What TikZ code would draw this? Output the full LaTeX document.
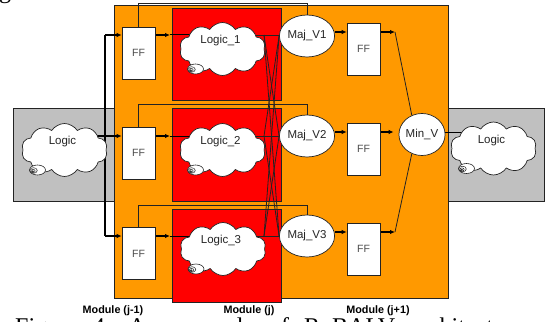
\documentclass[tikz,border=0pt]{standalone}
\usepackage{fontspec}
\setmainfont{Liberation Serif}
\setsansfont{Liberation Sans}
\usetikzlibrary{shapes.symbols,shapes.geometric,arrows.meta,calc}
\definecolor{modorange}{RGB}{255,153,0}
\definecolor{modred}{RGB}{255,0,0}
\definecolor{envgrey}{RGB}{192,192,192}
\definecolor{inkline}{RGB}{35,35,35}
\pgfdeclarelayer{panels}
\pgfdeclarelayer{wires}
\pgfsetlayers{panels,wires,main}
\begin{document}
\begin{tikzpicture}[x=1pt,y=-1pt,
  panel/.style={draw=inkline,line width=0.8pt},
  ffbox/.style={rectangle,draw=inkline,fill=white,line width=0.7pt,
    minimum width=33pt,minimum height=52pt,inner sep=0pt,
    text=black!70,font=\sffamily\fontsize{10.5}{11}\selectfont},
  voter/.style={ellipse,draw=inkline,fill=white,line width=0.7pt,
    minimum width=45pt,minimum height=42pt,inner sep=0pt,
    text=black!85,font=\sffamily\fontsize{11.5}{12}\selectfont},
  logiccloud/.style={cloud,cloud puffs=10,cloud puff arc=115,cloud ignores aspect,
    draw=inkline,fill=white,line width=0.7pt,
    minimum width=86pt,minimum height=53pt,inner sep=0pt},
  cloudtext/.style={text=black!85,font=\sffamily\fontsize{11.5}{12}\selectfont,inner sep=0pt},
  arr/.style={-{Latex[length=5pt,width=4.5pt]},line width=1.2pt,draw=black},
  bus/.style={line width=1.2pt,draw=black},
  wire/.style={line width=0.8pt,draw=inkline},
  feed/.style={line width=1pt,draw=black},
  modlabel/.style={font=\sffamily\bfseries\fontsize{10.8}{11}\selectfont,inner sep=0pt},
  captext/.style={font=\fontsize{24}{24}\selectfont,inner sep=0pt,anchor=base west},
  swirl/.pic={
    \draw[fill=white,draw=inkline,line width=0.6pt] (4,0) ellipse (8 and 5);
    \draw[inkline,line width=0.5pt] (0,0.5) ellipse (3.8 and 2.8);
    \draw[inkline,line width=0.5pt] (-0.5,1) ellipse (2.2 and 1.6);
    \draw[inkline,line width=0.5pt] (-0.8,1.3) ellipse (0.9 and 0.7);
  }
]
\useasboundingbox (0,0) rectangle (545,321);
\clip (0,0) rectangle (545,321);

% ---------- module panels ----------
\begin{pgfonlayer}{panels}
  \filldraw[panel,fill=envgrey] (13,108) rectangle (115,201);
  \filldraw[panel,fill=envgrey] (448,108) rectangle (544,201);
  \filldraw[panel,fill=modorange] (114,5) rectangle (448,298);
  \filldraw[panel,fill=modred] (172,8) rectangle (281,100);
  \filldraw[panel,fill=modred] (172,108) rectangle (281,201);
  \filldraw[panel,fill=modred] (172,209) rectangle (281,302);
\end{pgfonlayer}

% ---------- flip-flops ----------
\node[ffbox] (FFL1) at (138.5,53) {FF};
\node[ffbox] (FFL2) at (138.5,153) {FF};
\node[ffbox] (FFL3) at (138.5,253.5) {FF};
\node[ffbox] (FFR1) at (363.5,49) {FF};
\node[ffbox] (FFR2) at (363.5,149) {FF};
\node[ffbox] (FFR3) at (363.5,249) {FF};

% ---------- voters ----------
\node[voter] (MajV1) at (307,36) {Maj\_V1};
\node[voter] (MajV2) at (307,136) {Maj\_V2};
\node[voter] (MajV3) at (307,236) {Maj\_V3};
\node[voter] (MinV) at (422,134.5) {Min\_V};

% ---------- combinational logic ----------
\node[logiccloud] (LogicL) at (64.5,150) {};
\node[logiccloud] (Logic1) at (222.5,49) {};
\node[logiccloud] (Logic2) at (222.5,150) {};
\node[logiccloud] (Logic3) at (223,249) {};
\node[logiccloud] (LogicR) at (493.5,148.5) {};
\foreach \c/\t in {LogicL/Logic,Logic1/Logic\_1,Logic2/Logic\_2,Logic3/Logic\_3,LogicR/Logic}{
  \node[cloudtext] (\c txt) at ($(\c.center)+(-2,-8)$) {\t};
  \pic at ($(\c.center)+(-31,20)$) {swirl};
}

% ---------- junction points ----------
\coordinate (b1) at (105,35);  \coordinate (b2) at (105,136); \coordinate (b3) at (105,236);
\coordinate (j1) at (170,35);  \coordinate (j2) at (170,136); \coordinate (j3) at (170,236);
\coordinate (o1) at (264,35);  \coordinate (o2) at (264,136); \coordinate (o3) at (264,236);
\coordinate (r1) at (395,32);  \coordinate (r2) at (395,132); \coordinate (r3) at (395,232);
\coordinate (fb1) at (307,3.5); \coordinate (fb2) at (307,104.5); \coordinate (fb3) at (307,205);

% ---------- connections ----------
\begin{pgfonlayer}{wires}
  \draw[bus] (b1) -- (b3);
  \draw[bus] (LogicL.center |- b2) -- (b2);
  \foreach \i in {1,2,3}{
    \draw[arr] (b\i) -- (FFL\i.west |- b\i);
    \draw[arr] (FFL\i.east |- j\i) -- (j\i);
    \draw[feed] (j\i) -- (Logic\i.center |- j\i);
    \draw[wire] (Logic\i.center |- o\i) -- (MajV\i.west |- o\i);
    \draw[wire] (FFL\i.north) |- (fb\i) -- (MajV\i.north);
    \draw[arr] (MajV\i.east |- r\i) -- (FFR\i.west |- r\i);
  }
  % triplicated outputs to every voter
  \draw[wire] (o1) -- (MajV2.west);
  \draw[wire] (o1) -- (MajV3.west);
  \draw[wire] (o2) -- (MajV1.west);
  \draw[wire] (o2) -- (MajV3.west);
  \draw[wire] (o3) -- (MajV1.west);
  \draw[wire] (o3) -- (MajV2.west);
  % into the minority voter
  \draw[arr] (FFR1.east |- r1) -- (r1);
  \draw[wire] (r1) -- (MinV.118);
  \draw[arr,shorten >=5pt] (FFR2.east |- r2) -- (MinV.west |- r2);
  \draw[arr] (FFR3.east |- r3) -- (r3);
  \draw[wire] (r3) -- (MinV.-118);
  \draw[feed] (MinV.east |- r2) -- (LogicR.center |- r2);
\end{pgfonlayer}

% ---------- module names ----------
\node[modlabel] (modA) at (113,311) {Module (j-1)};
\node[modlabel] (modB) at (249,311) {Module (j)};
\node[modlabel] (modC) at (378,311) {Module (j+1)};

% ---------- surrounding caption text ----------
\node[captext] (gtail) at (-1,-1) {g};
\node[captext] (caption) at (15,334.5)
  {\spaceskip=15pt\relax Figure 4: An example of RoBALV architecture};
\end{tikzpicture}
\end{document}
